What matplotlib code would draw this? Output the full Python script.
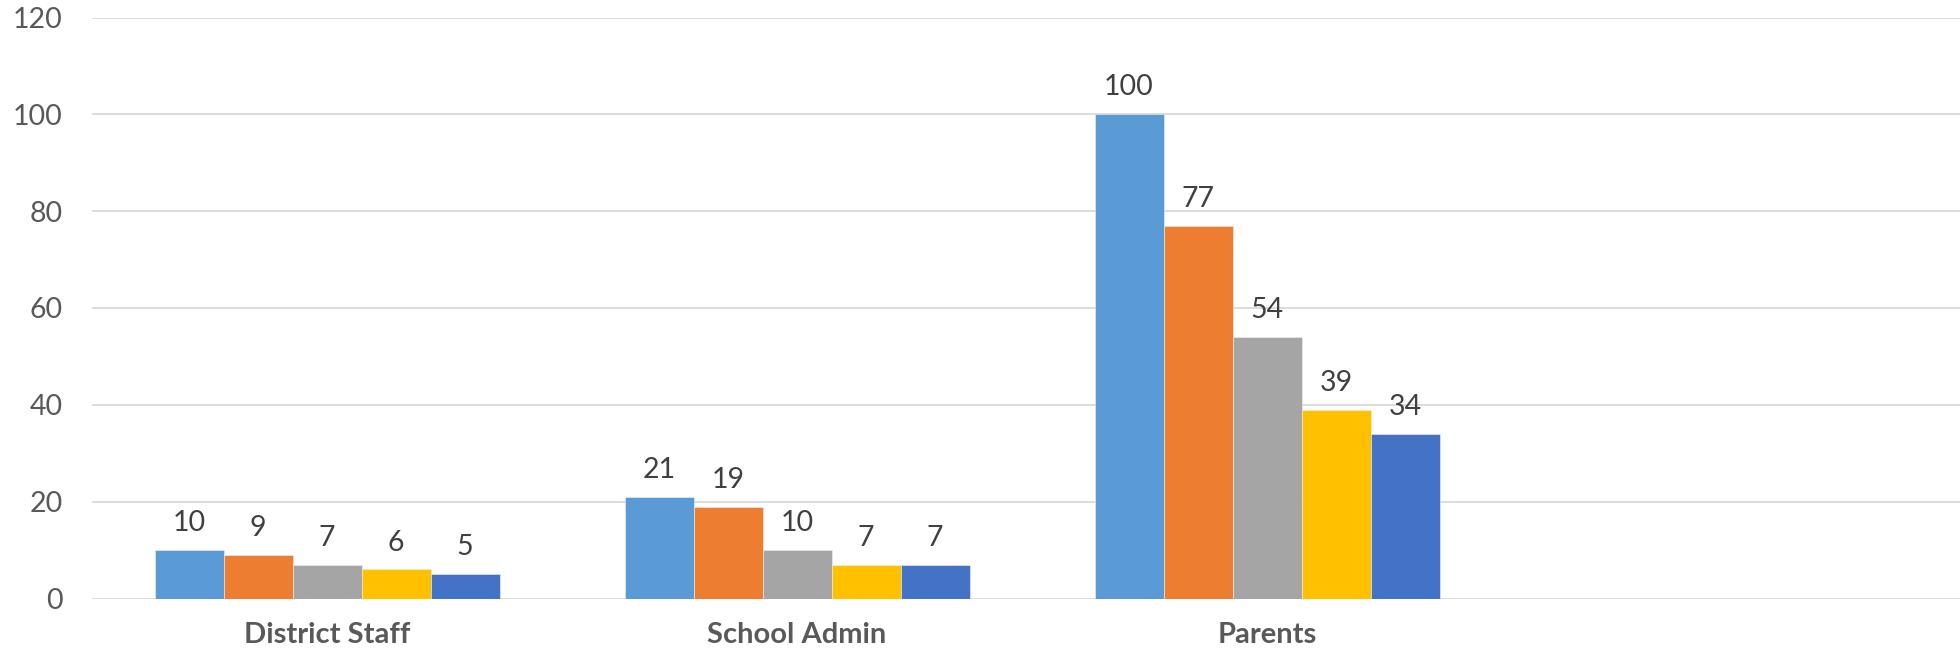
import numpy as np
import matplotlib.pyplot as plt

plt.rcParams['font.family'] = ['Lato', 'DejaVu Sans']

categories = ['District Staff', 'School Admin', 'Parents']
series_names = ['Series1', 'Series2', 'Series3', 'Series4', 'Series5']
values = [
    [10, 21, 100],
    [9, 19, 77],
    [7, 10, 54],
    [6, 7, 39],
    [5, 7, 34],
]
colors = ['#5B9BD5', '#ED7D31', '#A5A5A5', '#FFC000', '#4472C4']
y_ticks = [0, 20, 40, 60, 80, 100, 120]

W, H = 1960, 655
fig = plt.figure(figsize=(W / 100, H / 100), dpi=100)
# plot area in pixels (Excel style, 4 category slots, last one empty)
left, right, top, bottom = 92, 92 + 4 * 470, 17.5, 598.5
ax = fig.add_axes([left / W, (H - bottom) / H, (right - left) / W, (bottom - top) / H])

x = np.arange(len(categories))
bw = 69 / 470
for i, (name, vals) in enumerate(zip(series_names, values)):
    bars = ax.bar(x + (i - 2) * bw, vals, width=bw, color=colors[i], label=name,
                  edgecolor='#f0f0f0', linewidth=0.4, zorder=3)
    for b, v in zip(bars, vals):
        ax.annotate(str(v), (b.get_x() + b.get_width() / 2, v), xytext=(0, 10),
                    textcoords='offset points', ha='center', va='bottom',
                    fontsize=20.5, color='#404040')

ax.set_xlim(-0.5, 3.5)
ax.set_ylim(0, 120)
ax.set_yticks(y_ticks)
ax.set_xticks(x)
ax.set_xticklabels(categories, fontweight='bold')
ax.tick_params(axis='y', length=0, pad=21, labelsize=20.5, labelcolor='#595959')
ax.tick_params(axis='x', length=0, pad=17, labelsize=21, labelcolor='#595959')
ax.grid(axis='y', color='#D9D9D9', linewidth=1.3, zorder=0)
ax.set_axisbelow(True)
for s in ax.spines.values():
    s.set_visible(False)

fig.savefig('out.png', dpi=100)
